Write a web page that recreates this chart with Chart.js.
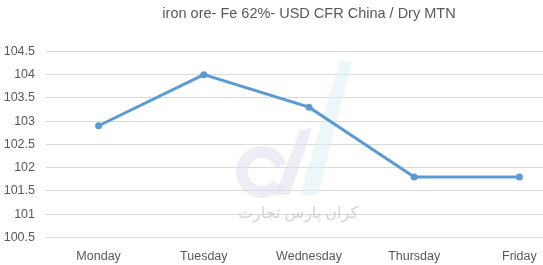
<!DOCTYPE html>
<html>
<head>
<meta charset="utf-8">
<script src="https://cdn.jsdelivr.net/npm/chart.js@4/dist/chart.umd.min.js"></script>
<style>
  html, body { margin: 0; padding: 0; background: #ffffff; overflow: hidden; width: 543px; height: 265px; }
  canvas { display: block; }
</style>
</head>
<body>
<canvas id="c" width="620" height="265"></canvas>
<script>
const chartTitle = 'iron ore- Fe 62%- USD CFR China / Dry MTN';
const categories = ['Monday', 'Tuesday', 'Wednesday', 'Thursday', 'Friday'];
const prices = [102.9, 104, 103.3, 101.8, 101.8];
const yMin = 100.5;
const yMax = 104.5;
const yStep = 0.5;
const watermarkText = 'کران پارس تجارت';

const watermark = {
  id: 'watermark',
  beforeDatasetsDraw(chart) {
    const ctx = chart.ctx;
    ctx.save();
    // faint logo shapes
    ctx.fillStyle = 'rgba(222,238,242,0.55)';
    ctx.beginPath();
    ctx.moveTo(340, 60); ctx.lineTo(352, 62); ctx.lineTo(318, 195); ctx.lineTo(300, 195);
    ctx.closePath(); ctx.fill();
    ctx.fillStyle = 'rgba(222,224,236,0.55)';
    ctx.beginPath();
    ctx.moveTo(300, 130); ctx.lineTo(312, 128); ctx.lineTo(290, 195); ctx.lineTo(275, 195);
    ctx.closePath(); ctx.fill();
    ctx.beginPath();
    ctx.arc(262, 172, 20, 0.2 * Math.PI, 1.9 * Math.PI);
    ctx.lineWidth = 12; ctx.strokeStyle = 'rgba(222,224,236,0.55)'; ctx.stroke();
    // watermark text
    ctx.fillStyle = 'rgba(200,200,208,0.8)';
    ctx.font = '16px "Noto Sans", "DejaVu Sans", sans-serif';
    ctx.textAlign = 'center';
    ctx.textBaseline = 'middle';
    ctx.fillText(watermarkText, 298, 213);
    ctx.restore();
  }
};

new Chart(document.getElementById('c'), {
  type: 'line',
  data: {
    labels: categories,
    datasets: [{
      data: prices,
      borderColor: '#5b9bd5',
      backgroundColor: '#5b9bd5',
      borderWidth: 3,
      pointRadius: 3.5,
      pointBorderWidth: 0,
      pointBackgroundColor: '#5b9bd5',
      tension: 0,
      fill: false
    }]
  },
  options: {
    responsive: false,
    animation: false,
    devicePixelRatio: 1,
    layout: { padding: { left: 0, right: 48, top: 0, bottom: 0 } },
    plugins: {
      legend: { display: false },
      tooltip: { enabled: false },
      title: {
        display: true,
        text: chartTitle,
        fullSize: false,
        color: '#595959',
        font: { family: '"Liberation Sans", Arial, sans-serif', size: 14.5, weight: 'normal' },
        padding: { top: 5, bottom: 29 }
      }
    },
    scales: {
      x: {
        offset: true,
        grid: { display: false, drawTicks: false },
        border: { display: true, color: '#d9d9d9', width: 1 },
        ticks: {
          color: '#595959',
          font: { family: '"Liberation Sans", Arial, sans-serif', size: 12.5 },
          padding: 12,
          maxRotation: 0,
          autoSkip: false
        },
        afterFit(scale) { scale.height = 27.7; }
      },
      y: {
        min: yMin,
        max: yMax,
        grid: { color: '#d9d9d9', lineWidth: 1, drawTicks: false },
        border: { display: false },
        ticks: {
          stepSize: yStep,
          color: '#595959',
          font: { family: '"Liberation Sans", Arial, sans-serif', size: 12.5 },
          padding: 11,
          callback: (v) => String(Math.round(v * 10) / 10)
        },
        afterFit(scale) { scale.width = 46; }
      }
    }
  },
  plugins: [watermark]
});
</script>
</body>
</html>
